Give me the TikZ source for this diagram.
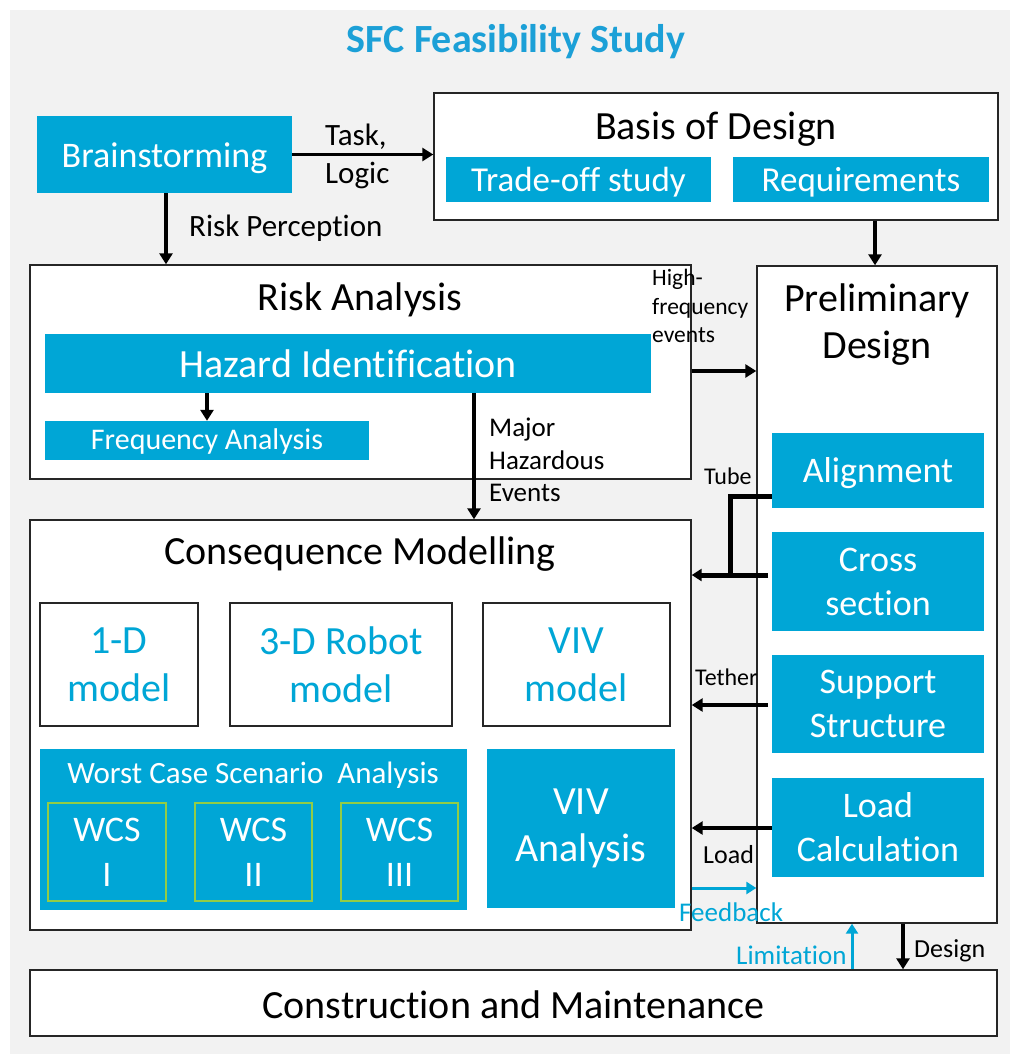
\documentclass[tikz,border=0pt]{standalone}
\usepackage{fontspec}
\setmainfont{Carlito}[Ligatures=NoCommon]
\usetikzlibrary{arrows.meta,calc}
\definecolor{sfcblue}{RGB}{0,166,214}
\definecolor{titleblue}{RGB}{28,160,215}
\definecolor{bggray}{RGB}{242,242,242}
\definecolor{wcsgreen}{RGB}{146,204,70}
\definecolor{edgegray}{RGB}{38,38,38}
\newcommand{\fsz}[2]{\fontsize{#1}{#2}\selectfont}
\begin{document}
\begin{tikzpicture}[x=1pt,y=-1pt,
  wbox/.style={draw=edgegray, line width=1.4pt, fill=white, inner sep=0pt},
  bbox/.style={fill=sfcblue, inner sep=0pt, text=white, align=center},
  gbox/.style={draw=wcsgreen, line width=1.5pt, inner sep=0pt, text=white, align=center},
  ttl/.style={inner sep=0pt, align=center, text=black},
  lbl/.style={inner sep=0pt, anchor=west, align=left, text=black},
  arr/.style={draw=black, line width=3.5pt, -{Triangle[length=11pt,width=13pt]}},
  barr/.style={draw=sfcblue, line width=3pt, -{Triangle[length=10pt,width=12pt]}},
  thk/.style={draw=black, line width=5pt}
]
\useasboundingbox (0,0) rectangle (1010,1054);
\fill[bggray] (10,10) rectangle (1010,1054);

% title
\node[inner sep=0pt, text=titleblue, font=\fsz{40}{48}\bfseries] (title) at (516,42) {SFC Feasibility Study};

% Brainstorming
\node[bbox, minimum width=255pt, minimum height=77pt, font=\fsz{36}{40}] (brain) at (164.5,154.5) {};
\node[inner sep=0pt, text=white, font=\fsz{36}{40}] (brainT) at (164.5,158) {Brainstorming};

% Basis of Design
\node[wbox, minimum width=564pt, minimum height=127pt] (basis) at (716,156.5) {};
\node[ttl, font=\fsz{40}{46}] (basisT) at (716,129) {Basis of Design};
\node[bbox, minimum width=265pt, minimum height=45pt, font=\fsz{35}{40}] (trade) at (578.5,179.5) {};
\node[inner sep=0pt, text=white, font=\fsz{35}{40}] (tradeT) at (578.5,182) {Trade-off study};
\node[bbox, minimum width=256pt, minimum height=45pt, font=\fsz{35}{40}] (req) at (861,179.5) {};
\node[inner sep=0pt, text=white, font=\fsz{35}{40}] (reqT) at (861,182) {Requirements};

% Risk Analysis
\node[wbox, minimum width=661pt, minimum height=214pt] (risk) at (360.5,372) {};
\node[ttl, font=\fsz{40}{46}] (riskT) at (360,300) {Risk Analysis};
\node[bbox, minimum width=606pt, minimum height=59pt, font=\fsz{40}{46}] (hazid) at (348,363.5) {Hazard Identification};
\node[bbox, minimum width=324pt, minimum height=39pt, font=\fsz{30}{34}] (freq) at (207,440.5) {};
\node[inner sep=0pt, text=white, font=\fsz{30}{34}] (freqT) at (207,441.5) {Frequency Analysis};

% Preliminary Design
\node[wbox, minimum width=240pt, minimum height=657pt] (prelim) at (877,594.5) {};
\node[ttl, font=\fsz{40}{47}] (prelimT) at (877,325) {Preliminary\\Design};
\node[bbox, minimum width=212pt, minimum height=75pt, font=\fsz{36}{44}] (align) at (878,470.5) {};
\node[inner sep=0pt, text=white, font=\fsz{36}{44}] (alignT) at (878,473.5) {Alignment};
\node[bbox, minimum width=212pt, minimum height=99pt, font=\fsz{36}{44}] (cross) at (878,581.5) {Cross\\section};
\node[bbox, minimum width=212pt, minimum height=98pt, font=\fsz{36}{44}] (support) at (878,704) {Support\\Structure};
\node[bbox, minimum width=212pt, minimum height=99pt, font=\fsz{36}{44}] (loadc) at (878,827.5) {Load\\Calculation};

% Consequence Modelling
\node[wbox, minimum width=661pt, minimum height=410pt] (conseq) at (360.5,725) {};
\node[ttl, font=\fsz{40}{46}] (conseqT) at (360,554) {Consequence Modelling};
\node[wbox, minimum width=158pt, minimum height=123pt, text=sfcblue, align=center, font=\fsz{40}{48}] (m1) at (119,664.5) {1-D\\model};
\node[wbox, minimum width=222pt, minimum height=123pt, text=sfcblue, align=center, font=\fsz{40}{48}] (m3) at (341,664.5) {3-D Robot\\model};
\node[wbox, minimum width=187pt, minimum height=123pt, text=sfcblue, align=center, font=\fsz{40}{48}] (mviv) at (576.5,664.5) {VIV\\model};
\node[bbox, minimum width=427pt, minimum height=161pt] (wcsa) at (253.5,829.5) {};
\node[ttl, text=white, font=\fsz{31}{36}] (wcsaT) at (253,775) {Worst Case Scenario~~Analysis};
\node[gbox, minimum width=118pt, minimum height=98pt, font=\fsz{36}{45}] (wcs1) at (107,852) {WCS\\I};
\node[gbox, minimum width=117pt, minimum height=98pt, font=\fsz{36}{45}] (wcs2) at (253.5,852) {WCS\\II};
\node[gbox, minimum width=117pt, minimum height=98pt, font=\fsz{36}{45}] (wcs3) at (399.5,852) {WCS\\III};
\node[bbox, minimum width=188pt, minimum height=159pt, font=\fsz{40}{47}] (vivan) at (581,828.5) {VIV\\Analysis};

% Construction and Maintenance
\node[wbox, minimum width=967pt, minimum height=66pt] (constr) at (513.5,1003) {};
\node[ttl, font=\fsz{40}{46}] (constrT) at (513.5,1005) {Construction and Maintenance};

% helper coordinates
\coordinate (bsx) at (166,0);
\coordinate (bdx) at (875,0);
\coordinate (mhx) at (474,0);
\coordinate (hfy) at (0,371);
\coordinate (tuby) at (0,496);
\coordinate (tubej) at (730,575);
\coordinate (cry) at (0,575);
\coordinate (csx) at (768,0);
\coordinate (tey) at (0,705);
\coordinate (ldy) at (0,828);
\coordinate (fby) at (0,888);
\coordinate (limx) at (852,0);
\coordinate (desx) at (903,0);

% connectors
\draw[arr] (brain.east) -- (brain.east -| basis.west);
\draw[arr] (brain.south -| bsx) -- (risk.north -| bsx);
\draw[arr] (basis.south -| bdx) -- (prelim.north -| bdx);
\draw[arr] (freq.north |- hazid.south) -- (freq.north);
\draw[arr] (hazid.south -| mhx) -- (conseq.north -| mhx);
\draw[arr] (risk.east |- hfy) -- (prelim.west |- hfy);
\draw[thk] (align.west |- tuby) -| (tubej);
\draw[thk, -{Triangle[length=10pt,width=12pt]}] (csx |- cry) -- (conseq.east |- cry);
\draw[arr] (csx |- tey) -- (conseq.east |- tey);
\draw[arr] (loadc.west |- ldy) -- (conseq.east |- ldy);
\draw[barr] (conseq.east |- fby) -- (prelim.west |- fby);
\draw[barr] (constr.north -| limx) -- (prelim.south -| limx);
\draw[arr] (prelim.south -| desx) -- (constr.north -| desx);

% labels
\node[lbl, font=\fsz{31}{38}] (taskL) at (325,156) {Task,\\Logic};
\node[lbl, font=\fsz{31}{34}] (riskpL) at (189,228) {Risk Perception};
\node[lbl, font=\fsz{27}{32.5}] (majorL) at (489,460) {Major\\Hazardous\\Events};
\node[lbl, font=\fsz{23.5}{28.5}] (highL) at (652,306) {High-\\frequency\\events};
\node[lbl, font=\fsz{24}{28}] (tubeL) at (704,476) {Tube};
\node[lbl, font=\fsz{24}{28}] (tetherL) at (695,677) {Tether};
\node[lbl, font=\fsz{26}{30}] (loadL) at (703,855) {Load};
\node[lbl, text=sfcblue, font=\fsz{27}{30}] (fbL) at (679,912) {Feedback};
\node[lbl, text=sfcblue, font=\fsz{27}{30}] (limL) at (736,955) {Limitation};
\node[lbl, font=\fsz{26}{30}] (desL) at (914,951) {Design};
\end{tikzpicture}
\end{document}
